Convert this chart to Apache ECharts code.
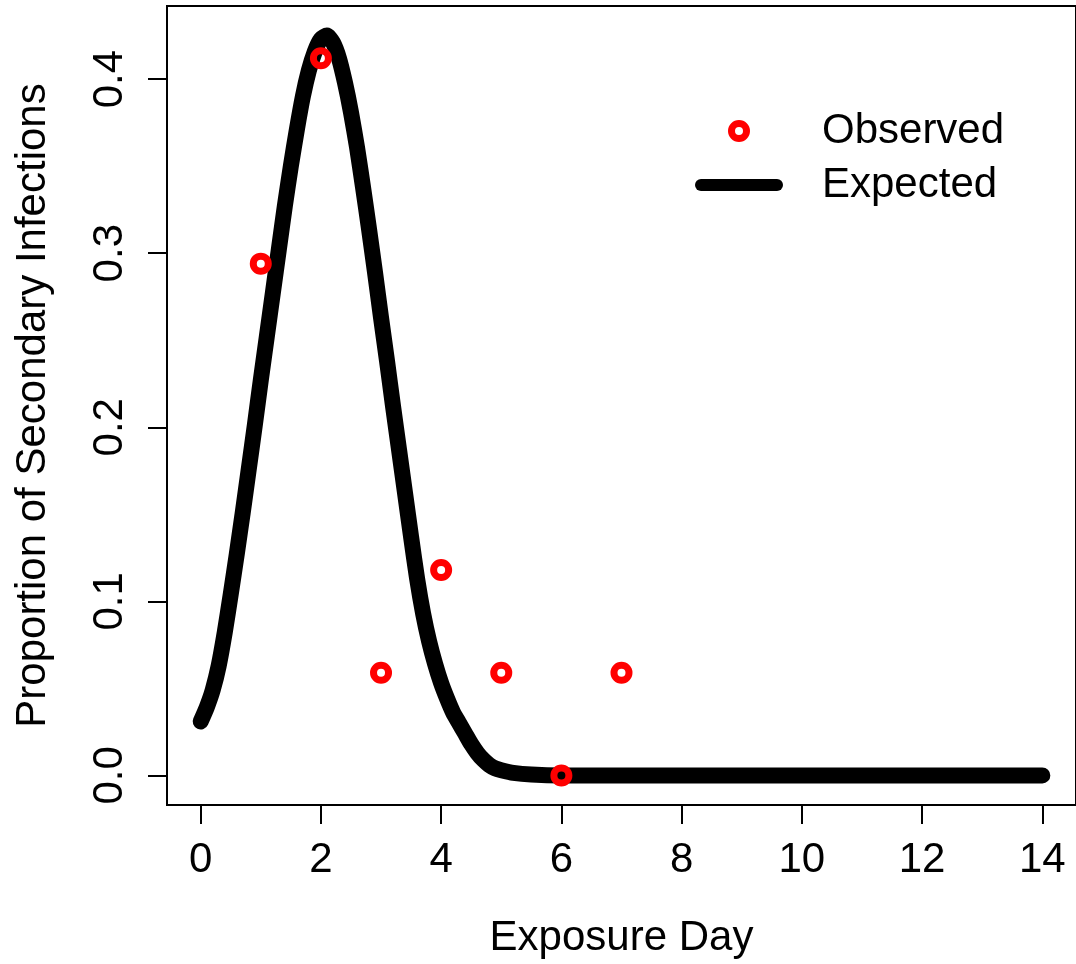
<!DOCTYPE html>
<html>
<head>
<meta charset="utf-8">
<title>Secondary infections</title>
<script src="https://cdn.jsdelivr.net/npm/echarts@6/dist/echarts.min.js"></script>
<style>
  html, body { margin: 0; padding: 0; background: #fff; }
  #chart { width: 1076px; height: 964px; }
</style>
</head>
<body>
<div id="chart"></div>
<script>
// observed proportions per exposure day
const obsDay = [1, 2, 3, 4, 5, 6, 7];
const obsProp = [0.294, 0.412, 0.059, 0.118, 0.059, 0, 0.059];

// expected curve (step 0.1 up to day 5, then sparse)
const curveDay = [0, 0.1, 0.2, 0.3, 0.4, 0.5, 0.6, 0.7, 0.8, 0.9,
                  1, 1.1, 1.2, 1.3, 1.4, 1.5, 1.6, 1.7, 1.8, 1.9,
                  2, 2.1, 2.2, 2.3, 2.4, 2.5, 2.6, 2.7, 2.8, 2.9,
                  3, 3.1, 3.2, 3.3, 3.4, 3.5, 3.6, 3.7, 3.8, 3.9,
                  4, 4.1, 4.2, 4.3, 4.4, 4.5, 4.6, 4.7, 4.8, 4.9,
                  5, 5.2, 5.5, 6, 7, 8, 9, 10, 11, 12, 13, 14];
const curveProp = [0.031, 0.039, 0.049, 0.063, 0.082, 0.104, 0.127, 0.151, 0.176, 0.201,
                   0.227, 0.252, 0.277, 0.302, 0.327, 0.350, 0.371, 0.390, 0.405, 0.416,
                   0.423, 0.425, 0.421, 0.412, 0.398, 0.381, 0.361, 0.338, 0.314, 0.289,
                   0.263, 0.238, 0.212, 0.187, 0.162, 0.137, 0.113, 0.093, 0.077, 0.064,
                   0.053, 0.044, 0.036, 0.030, 0.024, 0.018, 0.013, 0.009, 0.006, 0.004,
                   0.003, 0.0015, 0.0005, 0, 0, 0, 0, 0, 0, 0, 0, 0];

const xTicks = [0, 2, 4, 6, 8, 10, 12, 14];
const yTicks = [0, 0.1, 0.2, 0.3, 0.4];

const font = "'Liberation Sans', Arial, sans-serif";

const chart = echarts.init(document.getElementById('chart'));

const option = {
    animation: false,
    backgroundColor: '#fff',
    textStyle: { fontFamily: font },
    grid: {
        left: 167, top: 6, width: 915, height: 800,
        show: true, borderColor: '#000', borderWidth: 2
    },
    legend: {
        orient: 'vertical',
        left: 695, top: 110, padding: 0,
        itemWidth: 76, itemHeight: 15, itemGap: 12,
        textStyle: { fontSize: 42, color: '#000', fontFamily: font, padding: [0, 0, 0, 40] },
        data: [
            { name: 'Observed', icon: 'circle',
              itemStyle: { color: 'rgba(0,0,0,0)', borderColor: '#ff0000', borderWidth: 7, opacity: 1 } },
            { name: 'Expected',
              itemStyle: { opacity: 0 },
              lineStyle: { width: 12, color: '#000', cap: 'round' } }
        ]
    },
    xAxis: {
        type: 'value', min: -0.56, max: 14.56,
        name: 'Exposure Day', nameLocation: 'middle', nameGap: 112,
        nameTextStyle: { fontSize: 42, color: '#000', fontFamily: font },
        axisLine: { show: true, onZero: false, lineStyle: { color: '#000', width: 2 } },
        axisTick: { show: true, inside: false, length: 19, customValues: xTicks,
                    lineStyle: { color: '#000', width: 2 } },
        axisLabel: { customValues: xTicks, fontSize: 42, color: '#000', margin: 34, fontFamily: font },
        splitLine: { show: false }
    },
    yAxis: {
        type: 'value', min: -0.017, max: 0.442,
        name: 'Proportion of Secondary Infections', nameLocation: 'middle', nameGap: 113,
        nameRotate: 90,
        nameTextStyle: { fontSize: 42, color: '#000', fontFamily: font },
        axisLine: { show: true, onZero: false, lineStyle: { color: '#000', width: 2 } },
        axisTick: { show: true, inside: false, length: 19, customValues: yTicks,
                    lineStyle: { color: '#000', width: 2 } },
        axisLabel: { customValues: yTicks, fontSize: 42, color: '#000', margin: 36, rotate: 90,
                     fontFamily: font, formatter: v => v.toFixed(1) },
        splitLine: { show: false }
    },
    series: [
        {
            name: 'Expected',
            type: 'line',
            data: curveDay.map((d, i) => [d, curveProp[i]]),
            smooth: 0.2,
            symbol: 'none',
            lineStyle: { color: '#000', width: 16, cap: 'round', join: 'round' },
            z: 2
        },
        {
            name: 'Observed',
            type: 'scatter',
            data: obsDay.map((d, i) => [d, obsProp[i]]),
            symbol: 'circle',
            symbolSize: 15,
            itemStyle: { color: 'rgba(0,0,0,0)', borderColor: '#ff0000', borderWidth: 7, opacity: 1 },
            z: 3
        }
    ]
};

chart.setOption(option);
</script>
</body>
</html>
